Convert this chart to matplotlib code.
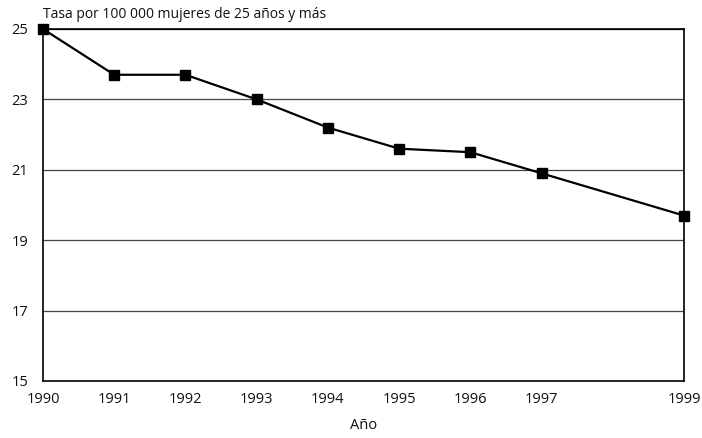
import matplotlib
matplotlib.use("Agg")
import matplotlib.pyplot as plt

years = [1990, 1991, 1992, 1993, 1994, 1995, 1996, 1997, 1999]
rates = [25.0, 23.7, 23.7, 23.0, 22.2, 21.6, 21.5, 20.9, 19.7]
xtick_labels = ["1990", "1991", "1992", "1993", "1994", "1995", "1996", "1997", "1999"]
yticks = [15, 17, 19, 21, 23, 25]

plt.rcParams['font.family'] = ['Open Sans', 'DejaVu Sans']

fig = plt.figure(figsize=(7.02, 4.38), dpi=100)
ax = fig.add_axes([43/702, 1 - 381/438, (684-43)/702, (381-29)/438])

for y in yticks[1:-1]:
    ax.axhline(y, color='#444444', lw=0.9, zorder=1)
ax.axhline(25, color='black', lw=1.6, zorder=1)

ax.plot(years, rates, color='black', lw=1.6, marker='s', markersize=7,
        markerfacecolor='black', markeredgecolor='black', zorder=3, clip_on=False)

ax.set_xlim(1990, 1999)
ax.set_ylim(15, 25)
ax.set_xticks(years)
ax.set_xticklabels(xtick_labels, fontsize=10.5, color='#111111')
ax.set_yticks(yticks)
ax.set_yticklabels([str(v) for v in yticks], fontsize=10.5, color='#111111')
ax.tick_params(axis='x', length=0, pad=8)
ax.tick_params(axis='y', length=0, pad=10.5)

for s in ax.spines.values():
    s.set_color('black')
    s.set_linewidth(1.2)

ax.set_xlabel("Año", fontsize=10.5, labelpad=8, color='#111111')
fig.text(43/702, 1 - 15/438, "Tasa por 100 000 mujeres de 25 años y más",
         fontsize=10, ha='left', va='center', color='#111111')

fig.savefig("out.png", dpi=100)
